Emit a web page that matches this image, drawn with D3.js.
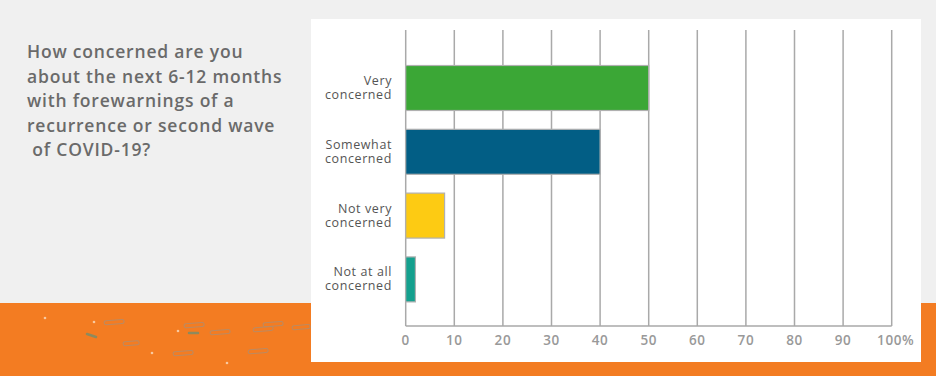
<!DOCTYPE html>
<html>
<head>
<meta charset="utf-8">
<script src="https://cdn.jsdelivr.net/npm/d3@7"></script>
<style>
  body { margin: 0; background: #f0f0f0; }
  svg { display: block; }
</style>
</head>
<body>
<div id="viz"></div>
<script>
// survey answers, top to bottom
let categories = [["Very", "concerned"], ["Somewhat", "concerned"], ["Not very", "concerned"], ["Not at all", "concerned"]];
let values = [50, 40, 8, 2];
let colors = ["#3ba736", "#025e85", "#fdcb13", "#14a08e"];
let ticks = [0, 10, 20, 30, 40, 50, 60, 70, 80, 90, 100];
let question = ["How concerned are you", "about the next 6-12 months", "with forewarnings of a", "recurrence or second wave", " of COVID-19?"];

const width = 936, height = 376;
const font = "'Open Sans', Lato, sans-serif";

const svg = d3.select("#viz").append("svg")
    .attr("width", width)
    .attr("height", height);

// page background + orange band at the bottom
svg.append("rect").attr("width", width).attr("height", height).attr("fill", "#f0f0f0");
svg.append("rect").attr("x", 0).attr("y", 303).attr("width", width).attr("height", height - 303).attr("fill", "#f37c22");

// little dashes in the orange band, purely decorative
let pills = [[104, 321, 20], [123, 342, 16], [184, 324, 20], [173, 352, 20], [210, 331, 20], [248, 350, 20], [253, 328, 20], [263, 323, 20], [292, 326, 18]];
svg.append("g").selectAll("rect").data(pills).join("rect")
    .attr("x", d => d[0]).attr("y", d => d[1])
    .attr("width", d => d[2]).attr("height", 4).attr("rx", 2)
    .attr("fill", "none").attr("stroke", "#bb8a62").attr("stroke-width", 1)
    .attr("transform", d => `rotate(-5, ${d[0]}, ${d[1]})`);
svg.append("g").selectAll("circle").data([[45, 318], [94, 322], [178, 331], [152, 353], [227, 363]]).join("circle")
    .attr("cx", d => d[0]).attr("cy", d => d[1]).attr("r", 1.3).attr("fill", "#f8c9a0");
svg.append("line").attr("x1", 87).attr("y1", 334).attr("x2", 96).attr("y2", 337)
    .attr("stroke", "#8d8a5e").attr("stroke-width", 2.5).attr("stroke-linecap", "round");
svg.append("line").attr("x1", 189).attr("y1", 333).attr("x2", 198).attr("y2", 333)
    .attr("stroke", "#8d8a5e").attr("stroke-width", 2.5).attr("stroke-linecap", "round");

// white chart panel
svg.append("rect").attr("x", 311).attr("y", 19).attr("width", 610).attr("height", 343).attr("fill", "#ffffff");

// question text
svg.append("g").selectAll("text").data(question).join("text")
    .attr("x", 27)
    .attr("y", (d, i) => 58 + i * 24.6)
    .attr("fill", "#6a6a6a")
    .style("font-family", font)
    .style("font-size", "17.5px")
    .style("font-weight", "600")
    .style("letter-spacing", "0.8px")
    .style("white-space", "pre")
    .text(d => d);

// scales
const x = d3.scaleLinear().domain([0, 100]).range([405.7, 891.7]);
const y = d3.scaleBand()
    .domain(d3.range(categories.length))
    .range([56.1, 311.3])
    .paddingInner(0.295)
    .paddingOuter(0.1475);

const gridTop = 30, gridBottom = 326;

// vertical grid lines
svg.append("g").selectAll("line").data(ticks).join("line")
    .attr("x1", d => x(d)).attr("x2", d => x(d))
    .attr("y1", gridTop).attr("y2", gridBottom)
    .attr("stroke", "#a9a9a9").attr("stroke-width", 1.5);

// baseline
svg.append("line")
    .attr("x1", x(0)).attr("x2", x(100))
    .attr("y1", gridBottom).attr("y2", gridBottom)
    .attr("stroke", "#a9a9a9").attr("stroke-width", 1.5);

// tick labels
svg.append("g").selectAll("text").data(ticks).join("text")
    .attr("x", d => x(d) + (d === 100 ? 4 : 0))
    .attr("y", 345)
    .attr("text-anchor", "middle")
    .attr("fill", "#999999")
    .style("font-family", font)
    .style("font-size", "13.5px")
    .style("font-weight", "600")
    .style("letter-spacing", "0.6px")
    .text(d => d === 100 ? "100%" : d);

// bars
svg.append("g").selectAll("rect").data(values).join("rect")
    .attr("x", x(0))
    .attr("y", (d, i) => y(i))
    .attr("width", d => x(d) - x(0))
    .attr("height", y.bandwidth())
    .attr("fill", (d, i) => colors[i])
    .attr("stroke", "#b0b0b0")
    .attr("stroke-width", 1.2);

// category labels, two lines each
const labels = svg.append("g").selectAll("text").data(categories).join("text")
    .attr("text-anchor", "end")
    .attr("fill", "#555555")
    .style("font-family", font)
    .style("font-size", "12.5px")
    .style("letter-spacing", "0.6px");
labels.selectAll("tspan").data((d, i) => d.map(t => [t, i])).join("tspan")
    .attr("x", 392)
    .attr("y", (d, j) => y(d[1]) + y.bandwidth() / 2 - 3 + j * 14)
    .text(d => d[0]);
</script>
</body>
</html>
